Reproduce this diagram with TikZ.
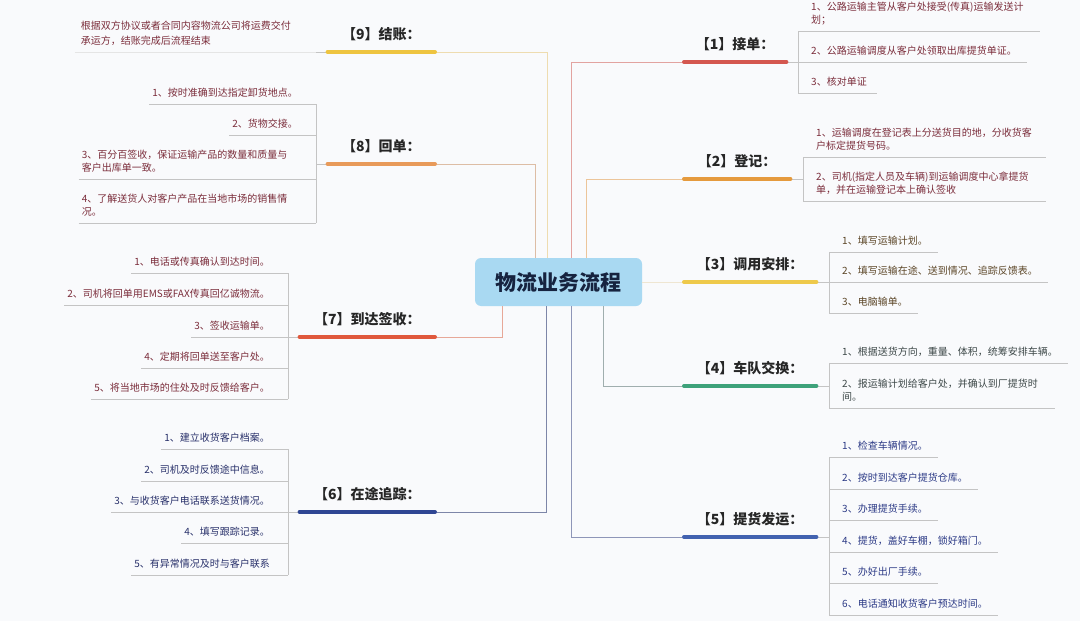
\documentclass[tikz,border=0pt]{standalone}
\usepackage{fontspec}
\setmainfont{Noto Sans CJK SC}
\definecolor{bgc}{HTML}{F9FAFC}
\definecolor{ctrfill}{HTML}{A9D9F2}
\definecolor{ctrtext}{HTML}{16233F}
\definecolor{k1}{HTML}{D4574F}
\definecolor{k2}{HTML}{E59A3D}
\definecolor{k3}{HTML}{EEC94B}
\definecolor{k4}{HTML}{3EA27A}
\definecolor{k5}{HTML}{4262B0}
\definecolor{k6}{HTML}{2F4693}
\definecolor{k7}{HTML}{E0583C}
\definecolor{k8}{HTML}{E89A5A}
\definecolor{k9}{HTML}{EEC440}
\definecolor{c1}{HTML}{E2A3A0}
\definecolor{c2}{HTML}{ECC59A}
\definecolor{c3}{HTML}{EFE6D2}
\definecolor{c4}{HTML}{A0AEAE}
\definecolor{c5}{HTML}{8E96B8}
\definecolor{c6}{HTML}{7D86A8}
\definecolor{c7}{HTML}{E7A898}
\definecolor{c8}{HTML}{DDBDA5}
\definecolor{c9}{HTML}{EEDCB0}
\definecolor{tmar}{HTML}{7B2D3B}
\definecolor{tbrn}{HTML}{5B4526}
\definecolor{tgry}{HTML}{3D4848}
\definecolor{tnav}{HTML}{2C3A86}
\definecolor{tnv2}{HTML}{28306A}
\definecolor{lgray}{HTML}{C4C4C4}
\tikzset{
  ritem/.style={anchor=south west, inner xsep=0pt, inner ysep=3pt,
    font=\fontsize{10}{13}\selectfont, align=left, execute at begin node=\strut},
  litem/.style={anchor=south east, inner xsep=0pt, inner ysep=3pt,
    font=\fontsize{10}{13}\selectfont, align=left, execute at begin node=\strut},
  topic/.style={inner xsep=0pt, inner ysep=7.5pt, text=black!85,
    font=\fontsize{14}{17}\selectfont\bfseries, execute at begin node=\strut},
  cline/.style={draw=lgray, line width=0.7pt},
  conn/.style={line width=0.8pt},
  uline/.style={line width=4pt, line cap=round, shorten <=2pt, shorten >=2pt},
  ctrbox/.style={fill=ctrfill, rounded corners=6pt, minimum width=167pt,
    minimum height=48pt, text=ctrtext, font=\fontsize{21}{25}\selectfont\bfseries}
}
\newcommand\ri[6]{\node[ritem,#5] (#1) at (#3+13,#4) {#6};
  \draw[cline] (#2 |- #1.south) -- ([xshift=10pt]#1.south east);}
\newcommand\li[6]{\node[litem,#5] (#1) at (#3-18,#4) {#6};
  \draw[cline] ([xshift=-3pt]#1.south west) -- (#2 |- #1.south);}
\begin{document}
\begin{tikzpicture}[x=1pt,y=-1pt]
\useasboundingbox (0,0) rectangle (1080,621);
\fill[bgc] (0,0) rectangle (1080,621);

\node[ctrbox] (ctr) at (558.5,282) {物流业务流程};

% topics right
\node[topic, anchor=south west, minimum width=106pt] (t1) at (682,62) {【1】接单：};
\node[topic, anchor=south west, minimum width=110pt] (t2) at (682,179) {【2】登记：};
\node[topic, anchor=south west, minimum width=136pt] (t3) at (682,282) {【3】调用安排：};
\node[topic, anchor=south west, minimum width=136pt] (t4) at (682,386) {【4】车队交换：};
\node[topic, anchor=south west, minimum width=136pt] (t5) at (682,537) {【5】提货发运：};
% topics left
\node[topic, anchor=south east, minimum width=111pt] (t9) at (437,52) {【9】结账：};
\node[topic, anchor=south east, minimum width=111pt] (t8) at (437,164) {【8】回单：};
\node[topic, anchor=south east, minimum width=139pt] (t7) at (437,337) {【7】到达签收：};
\node[topic, anchor=south east, minimum width=139pt] (t6) at (437,512) {【6】在途追踪：};

% bracket points
\coordinate (b1) at (798,62);
\coordinate (b2) at (803,179);
\coordinate (b3) at (829,282);
\coordinate (b4) at (829,386);
\coordinate (b5) at (829,537);
\coordinate (b9) at (316,52);
\coordinate (b8) at (316,164);
\coordinate (b7) at (288,337);
\coordinate (b6) at (288,512);

% [1]
\ri{i11}{b1}{798}{31}{text=tmar, text width=219pt}{1、公路运输主管从客户处接受(传真)运输发送计\\\strut 划；}
\ri{i12}{b1}{798}{62}{text=tmar}{2、公路运输调度从客户处领取出库提货单证。}
\ri{i13}{b1}{798}{93}{text=tmar}{3、核对单证}
% [2]
\ri{i21}{b2}{803}{157}{text=tmar, text width=220pt}{1、运输调度在登记表上分送货目的地，分收货客\\\strut 户标定提货号码。}
\ri{i22}{b2}{803}{201}{text=tmar, text width=220pt}{2、司机(指定人员及车辆)到运输调度中心拿提货\\\strut 单，并在运输登记本上确认签收}
% [3]
\ri{i31}{b3}{829}{252}{text=tbrn}{1、填写运输计划。}
\ri{i32}{b3}{829}{282}{text=tbrn}{2、填写运输在途、送到情况、追踪反馈表。}
\ri{i33}{b3}{829}{313}{text=tbrn}{3、电脑输单。}
% [4]
\ri{i41}{b4}{829}{363}{text=tgry}{1、根据送货方向，重量、体积，统筹安排车辆。}
\ri{i42}{b4}{829}{408}{text=tgry, text width=203pt}{2、报运输计划给客户处，并确认到厂提货时\\\strut 间。}
% [5]
\ri{i51}{b5}{829}{457}{text=tnav}{1、检查车辆情况。}
\ri{i52}{b5}{829}{489}{text=tnav}{2、按时到达客户提货仓库。}
\ri{i53}{b5}{829}{520}{text=tnav}{3、办理提货手续。}
\ri{i54}{b5}{829}{552}{text=tnav}{4、提货，盖好车棚，锁好箱门。}
\ri{i55}{b5}{829}{583}{text=tnav}{5、办好出厂手续。}
\ri{i56}{b5}{829}{615}{text=tnav}{6、电话通知收货客户预达时间。}

% [9]
\node[litem, text=tmar, text width=217pt, font=\fontsize{10}{15}\selectfont] (i91) at (298,52) {根据双方协议或者合同内容物流公司将运费交付\\\strut 承运方，结账完成后流程结束};
\draw[draw=black!10, line width=0.6pt] ([xshift=-6pt]i91.south west) -- (b9);
% [8]
\li{i81}{b8}{316}{104}{text=tmar}{1、按时准确到达指定卸货地点。}
\li{i82}{b8}{316}{135}{text=tmar}{2、货物交接。}
\li{i83}{b8}{316}{179}{text=tmar, text width=216pt}{3、百分百签收，保证运输产品的数量和质量与\\\strut 客户出库单一致。}
\li{i84}{b8}{316}{223}{text=tmar, text width=216pt}{4、了解送货人对客户产品在当地市场的销售情\\\strut 况。}
% [7]
\li{i71}{b7}{288}{273}{text=tmar}{1、电话或传真确认到达时间。}
\li{i72}{b7}{288}{305}{text=tmar}{2、司机将回单用EMS或FAX传真回亿诚物流。}
\li{i73}{b7}{288}{337}{text=tmar}{3、签收运输单。}
\li{i74}{b7}{288}{368}{text=tmar}{4、定期将回单送至客户处。}
\li{i75}{b7}{288}{399}{text=tmar}{5、将当地市场的住处及时反馈给客户。}
% [6]
\li{i61}{b6}{288}{449}{text=tnv2}{1、建立收货客户档案。}
\li{i62}{b6}{288}{481}{text=tnv2}{2、司机及时反馈途中信息。}
\li{i63}{b6}{288}{512}{text=tnv2}{3、与收货客户电话联系送货情况。}
\li{i64}{b6}{288}{543}{text=tnv2}{4、填写跟踪记录。}
\li{i65}{b6}{288}{575}{text=tnv2}{5、有异常情况及时与客户联系}

% brackets
\draw[cline] (b1 |- i11.south) -- (b1 |- i13.south);
\draw[cline] (b2 |- i21.south) -- (b2 |- i22.south);
\draw[cline] (b3 |- i31.south) -- (b3 |- i33.south);
\draw[cline] (b4 |- i41.south) -- (b4 |- i42.south);
\draw[cline] (b5 |- i51.south) -- (b5 |- i56.south);
\draw[cline] (b8 |- i81.south) -- (b8 |- i84.south);
\draw[cline] (b7 |- i71.south) -- (b7 |- i75.south);
\draw[cline] (b6 |- i61.south) -- (b6 |- i65.south);
% topic to bracket
\draw[cline] (t1.south east) -- (b1);
\draw[cline] (t2.south east) -- (b2);
\draw[cline] (t3.south east) -- (b3);
\draw[cline] (t4.south east) -- (b4);
\draw[cline] (t5.south east) -- (b5);
\draw[cline] (t9.south west) -- (b9);
\draw[cline] (t8.south west) -- (b8);
\draw[cline] (t7.south west) -- (b7);
\draw[cline] (t6.south west) -- (b6);

% center connectors
\draw[conn, draw=c1] ([xshift=12.5pt]ctr.north) |- (t1.south west);
\draw[conn, draw=c2] ([xshift=27.5pt]ctr.north) |- (t2.south west);
\draw[conn, draw=c3] (ctr.east) -- (t3.south west);
\draw[conn, draw=c4] ([xshift=44.5pt]ctr.south) |- (t4.south west);
\draw[conn, draw=c5] ([xshift=12.5pt]ctr.south) |- (t5.south west);
\draw[conn, draw=c6] ([xshift=-12.5pt]ctr.south) |- (t6.south east);
\draw[conn, draw=c7] ([xshift=-56.5pt]ctr.south) |- (t7.south east);
\draw[conn, draw=c8] ([xshift=-23.5pt]ctr.north) |- (t8.south east);
\draw[conn, draw=c9] ([xshift=-11.5pt]ctr.north) |- (t9.south east);

% topic underlines
\draw[uline, draw=k1] (t1.south west) -- (t1.south east);
\draw[uline, draw=k2] (t2.south west) -- (t2.south east);
\draw[uline, draw=k3] (t3.south west) -- (t3.south east);
\draw[uline, draw=k4] (t4.south west) -- (t4.south east);
\draw[uline, draw=k5] (t5.south west) -- (t5.south east);
\draw[uline, draw=k9] (t9.south west) -- (t9.south east);
\draw[uline, draw=k8] (t8.south west) -- (t8.south east);
\draw[uline, draw=k7] (t7.south west) -- (t7.south east);
\draw[uline, draw=k6] (t6.south west) -- (t6.south east);
\end{tikzpicture}
\end{document}
